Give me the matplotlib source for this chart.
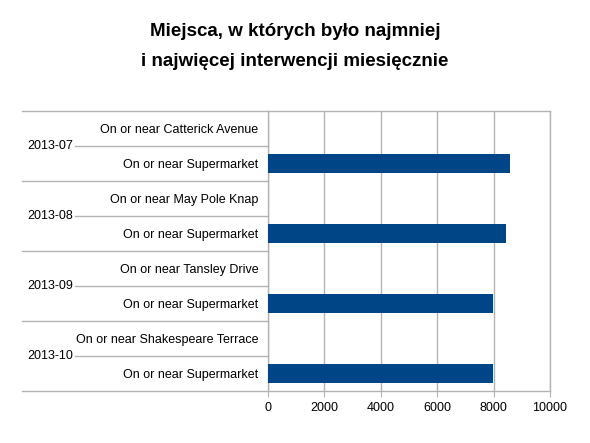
import matplotlib.pyplot as plt
import matplotlib.transforms as mtransforms

plt.rcParams['font.family'] = ['Liberation Sans', 'DejaVu Sans']

months = ['2013-07', '2013-08', '2013-09', '2013-10']
places_min = ['On or near Catterick Avenue', 'On or near May Pole Knap',
              'On or near Tansley Drive', 'On or near Shakespeare Terrace']
places_max = ['On or near Supermarket'] * 4
values_min = [1, 1, 1, 1]
values_max = [8590, 8450, 7990, 7990]

labels = []
values = []
for i in range(len(months)):
    labels += [places_min[i], places_max[i]]
    values += [values_min[i], values_max[i]]
ypos = [i + 0.5 for i in range(len(labels))]

grid_color = '#b3b3b3'
fig = plt.figure(figsize=(5.9, 4.43), dpi=100)
ax = fig.add_axes([268 / 590, 52 / 443, 282 / 590, 280 / 443])

ax.barh(ypos, values, height=0.52, color='#004586', zorder=3)
ax.set_xlim(0, 10000)
ax.set_ylim(len(labels), 0)
ax.set_xticks(range(0, 10001, 2000))
ax.xaxis.grid(True, color=grid_color, linewidth=1, zorder=0)
ax.set_yticks(ypos)
ax.set_yticklabels(labels, fontsize=9)
ax.tick_params(axis='y', length=0, pad=7)
ax.tick_params(axis='x', length=4, color=grid_color, labelsize=9, pad=4)
for s in ax.spines.values():
    s.set_color(grid_color)
    s.set_linewidth(1)

# separators and month labels in the category area
trans = mtransforms.blended_transform_factory(fig.transFigure, ax.transData)
x_axis = 268 / 590
for i in range(len(months) + 1):
    ax.plot([22 / 590, x_axis], [2 * i, 2 * i], color=grid_color, lw=1,
            transform=trans, clip_on=False)
for i, m in enumerate(months):
    ax.plot([75 / 590, x_axis], [2 * i + 1, 2 * i + 1], color=grid_color, lw=1,
            transform=trans, clip_on=False)
    ax.text(27 / 590, 2 * i + 1, m, transform=trans, fontsize=9,
            ha='left', va='center')

fig.text(0.5, 1 - 31 / 443, 'Miejsca, w których było najmniej', ha='center',
         va='center', fontsize=13.5, fontweight='bold')
fig.text(0.5, 1 - 61 / 443, 'i najwięcej interwencji miesięcznie', ha='center',
         va='center', fontsize=13.5, fontweight='bold')

fig.savefig('out.png', dpi=100)
